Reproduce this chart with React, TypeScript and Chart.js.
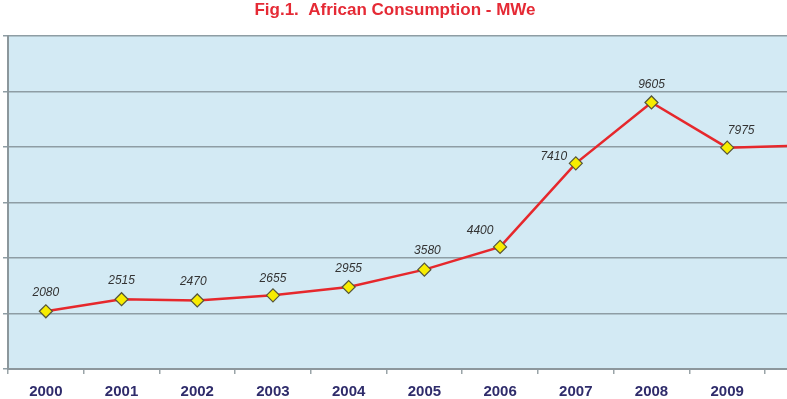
import React, { useEffect, useRef } from "react";
import { Chart, registerables } from "chart.js";

Chart.register(...registerables);

const years = ["2000", "2001", "2002", "2003", "2004", "2005", "2006", "2007", "2008", "2009", "2010"];
const consumption = [2080, 2515, 2470, 2655, 2955, 3580, 4400, 7410, 9605, 7975, 8050];
const shownLabels = ["2080", "2515", "2470", "2655", "2955", "3580", "4400", "7410", "9605", "7975", ""];
const titleText = "Fig.1.  African Consumption - MWe";

const labelDx = [0, 0, -4, 0, 0, 3, -20, -22, 0, 14, 0];
const labelDy = [-19, -19, -19, -17, -18, -19, -16, -7, -18, -17, -18];

const bgPlugin = {
  id: "plotBg",
  beforeDraw(chart: any) {
    const { ctx, chartArea } = chart;
    ctx.save();
    ctx.fillStyle = "#D3EAF4";
    ctx.fillRect(chartArea.left, chartArea.top, chartArea.right - chartArea.left, chartArea.bottom - chartArea.top);
    ctx.restore();
  },
};

const labelPlugin = {
  id: "valueLabels",
  afterDatasetsDraw(chart: any) {
    const { ctx } = chart;
    const meta = chart.getDatasetMeta(0);
    ctx.save();
    ctx.font = "italic 12px 'Liberation Sans', Arial, sans-serif";
    ctx.fillStyle = "#333333";
    ctx.textAlign = "center";
    ctx.textBaseline = "middle";
    meta.data.forEach((pt: any, i: number) => {
      const txt = shownLabels[i];
      if (!txt) return;
      ctx.fillText(txt, pt.x + labelDx[i], pt.y + labelDy[i]);
    });
    ctx.restore();
  },
};

export default function App() {
  const ref = useRef<HTMLCanvasElement | null>(null);
  useEffect(() => {
    if (!ref.current) return;
    const chart = new Chart(ref.current, {
      type: "line",
      data: {
        datasets: [
          {
            data: consumption.map((v, i) => ({ x: i, y: v })),
            borderColor: "#E6282C",
            borderWidth: 2.5,
            pointStyle: "rectRot",
            pointRadius: 6.5,
            pointBackgroundColor: "#F7EC00",
            pointBorderColor: "#55553A",
            pointBorderWidth: 1.2,
            tension: 0,
          },
        ],
      },
      options: {
        animation: false,
        responsive: false,
        maintainAspectRatio: false,
        layout: { autoPadding: false, padding: { left: 3, right: 0, top: 0, bottom: -11 } },
        plugins: {
          legend: { display: false },
          tooltip: { enabled: false },
          title: {
            display: true,
            text: titleText,
            color: "#E52A35",
            font: { family: "'Liberation Sans', Arial, sans-serif", size: 17, weight: "bold" },
            padding: { top: 0, bottom: 15.6 },
          },
        },
        scales: {
          x: {
            type: "linear",
            min: -0.5,
            max: 9.79,
            afterBuildTicks: (scale: any) => {
              scale.ticks = years.slice(0, 10).map((_, i) => ({ value: i }));
            },
            ticks: {
              color: "#2F2C6B",
              font: { family: "'Liberation Sans', Arial, sans-serif", size: 15, weight: "bold" },
              padding: 9,
              maxRotation: 0,
              autoSkip: false,
              callback: (v: any) => years[Math.round(Number(v))],
            },
            grid: {
              offset: true,
              drawOnChartArea: false,
              drawTicks: true,
              tickLength: 5,
              color: "#9AA4A8",
              lineWidth: 1.5,
            },
            border: { color: "#8C979C", width: 2 },
          },
          y: {
            min: 0,
            max: 12000,
            ticks: { display: false, stepSize: 2000 },
            grid: {
              color: "#8E9DA4",
              lineWidth: 1.5,
              tickLength: 5,
              drawTicks: true,
            },
            border: { color: "#8C979C", width: 2 },
          },
        },
      },
      plugins: [bgPlugin, labelPlugin],
    });
    return () => chart.destroy();
  }, []);
  return (
    <div style={{ position: "absolute", left: 0, top: 0, width: 787, height: 399, background: "#fff" }}>
      <canvas ref={ref} width={787} height={399} style={{ display: "block" }} />
    </div>
  );
}
